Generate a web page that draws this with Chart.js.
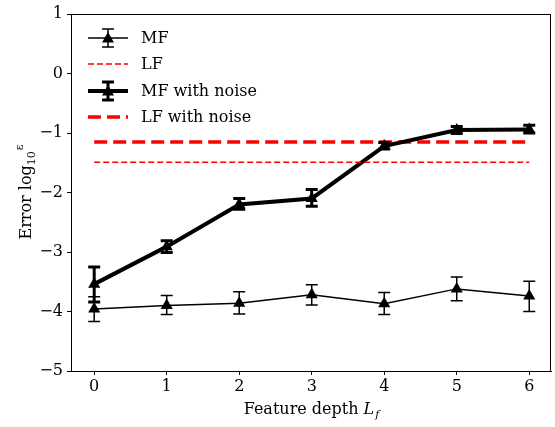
<!DOCTYPE html>
<html lang="en">
<head>
  <meta charset="UTF-8" />
  <title>Error vs feature depth</title>
  <script src="https://cdn.jsdelivr.net/npm/chart.js"></script>
  <style>
    html, body { margin: 0; padding: 0; background: #fff; }
    #wrap { width: 555px; height: 427px; }
  </style>
</head>
<body>
  <div id="wrap"><canvas id="errChart" width="555" height="427"></canvas></div>

  <script>
    // ==== DATA ====
    const depths = [0, 1, 2, 3, 4, 5, 6];
    const yTicks = [1, 0, -1, -2, -3, -4, -5];

    const mfMean = [-3.96, -3.90, -3.86, -3.72, -3.87, -3.62, -3.74];
    const mfLow  = [-4.17, -4.05, -4.04, -3.89, -4.05, -3.82, -4.00];
    const mfHigh = [-3.75, -3.73, -3.67, -3.55, -3.68, -3.42, -3.49];

    const mfNoiseMean = [-3.54, -2.91, -2.20, -2.10, -1.22, -0.95, -0.94];
    const mfNoiseLow  = [-3.84, -3.01, -2.28, -2.23, -1.27, -1.01, -1.00];
    const mfNoiseHigh = [-3.25, -2.81, -2.10, -1.95, -1.16, -0.89, -0.87];

    const lfValues      = [-1.49, -1.49, -1.49, -1.49, -1.49, -1.49, -1.49];
    const lfNoiseValues = [-1.15, -1.15, -1.15, -1.15, -1.15, -1.15, -1.15];

    const FONT = '"DejaVu Serif", serif';
    const minus = v => String(v).replace('-', '\u2212');
    const pts = arr => depths.map((d, i) => ({ x: d, y: arr[i] }));

    // error bars, drawn through the chart scales
    const errorBars = {
      id: 'errorBars',
      afterDatasetsDraw(chart) {
        const { ctx, scales: { x, y } } = chart;
        chart.data.datasets.forEach(ds => {
          if (!ds.errLow) return;
          ctx.save();
          ctx.strokeStyle = '#000';
          ctx.lineWidth = ds.errWidth;
          depths.forEach((d, i) => {
            const px = x.getPixelForValue(d);
            const top = y.getPixelForValue(ds.errHigh[i]);
            const bot = y.getPixelForValue(ds.errLow[i]);
            ctx.beginPath();
            ctx.moveTo(px, top); ctx.lineTo(px, bot);
            ctx.moveTo(px - 6, top); ctx.lineTo(px + 6, top);
            ctx.moveTo(px - 6, bot); ctx.lineTo(px + 6, bot);
            ctx.stroke();
          });
          ctx.restore();
        });
      }
    };

    // frame, matplotlib-like legend and axis titles
    const decor = {
      id: 'decor',
      afterDraw(chart) {
        const { ctx, chartArea } = chart;
        ctx.save();
        ctx.strokeStyle = '#000';
        ctx.lineWidth = 1;
        ctx.strokeRect(chartArea.left + 0.5, chartArea.top + 0.5,
          chartArea.right - chartArea.left - 1, chartArea.bottom - chartArea.top);

        ctx.fillStyle = '#000';
        ctx.textBaseline = 'middle';
        ctx.font = '16px ' + FONT;
        const rows = [38, 64, 91, 117];
        chart.data.datasets.forEach((ds, i) => {
          const yy = rows[i];
          ctx.strokeStyle = ds.borderColor;
          ctx.lineWidth = ds.borderWidth;
          ctx.setLineDash(ds.borderDash || []);
          ctx.beginPath();
          ctx.moveTo(88, yy); ctx.lineTo(128, yy);
          ctx.stroke();
          ctx.setLineDash([]);
          if (ds.errLow) {
            ctx.lineWidth = ds.errWidth;
            ctx.beginPath();
            ctx.moveTo(108, yy - 9); ctx.lineTo(108, yy + 9);
            ctx.moveTo(102, yy - 9); ctx.lineTo(114, yy - 9);
            ctx.moveTo(102, yy + 9); ctx.lineTo(114, yy + 9);
            ctx.stroke();
            ctx.beginPath();
            ctx.moveTo(108, yy - 6); ctx.lineTo(114, yy + 4.5); ctx.lineTo(102, yy + 4.5);
            ctx.closePath();
            ctx.fill();
          }
          ctx.fillText(ds.label, 141, yy + 1);
        });

        // x title
        ctx.textBaseline = 'alphabetic';
        ctx.font = '16px ' + FONT;
        const xs = 'Feature depth ';
        const w1 = ctx.measureText(xs).width;
        ctx.font = 'italic 16px ' + FONT;
        const w2 = ctx.measureText('L').width;
        ctx.font = 'italic 11px ' + FONT;
        const w3 = ctx.measureText('f').width;
        let sx = (chartArea.left + chartArea.right) / 2 - (w1 + w2 + w3) / 2;
        ctx.font = '16px ' + FONT;
        ctx.fillText(xs, sx, 414);
        ctx.font = 'italic 16px ' + FONT;
        ctx.fillText('L', sx + w1, 414);
        ctx.font = 'italic 11px ' + FONT;
        ctx.fillText('f', sx + w1 + w2 + 1, 418);

        // y title
        ctx.translate(26, (chartArea.top + chartArea.bottom) / 2);
        ctx.rotate(-Math.PI / 2);
        ctx.font = '16px ' + FONT;
        const a = 'Error log';
        const aw = ctx.measureText(a).width;
        ctx.font = '11px ' + FONT;
        const bw = ctx.measureText('10').width;
        const cw = ctx.measureText('\u03b5').width;
        let yx = -(aw + bw + cw) / 2;
        ctx.font = '16px ' + FONT;
        ctx.fillText(a, yx, 5);
        ctx.font = '11px ' + FONT;
        ctx.fillText('10', yx + aw, 9);
        ctx.fillText('\u03b5', yx + aw + bw + 1, -3);
        ctx.restore();
      }
    };

    new Chart(document.getElementById('errChart'), {
      type: 'line',
      data: {
        datasets: [
          {
            label: 'MF',
            data: pts(mfMean),
            borderColor: '#000',
            backgroundColor: '#000',
            borderWidth: 1.5,
            pointStyle: 'triangle',
            pointRadius: 7,
            pointBorderWidth: 0,
            errLow: mfLow, errHigh: mfHigh, errWidth: 1.5
          },
          {
            label: 'LF',
            data: pts(lfValues),
            borderColor: '#ff0000',
            borderWidth: 1.5,
            borderDash: [6, 3],
            pointRadius: 0
          },
          {
            label: 'MF with noise',
            data: pts(mfNoiseMean),
            borderColor: '#000',
            backgroundColor: '#000',
            borderWidth: 4,
            pointStyle: 'triangle',
            pointRadius: 7,
            pointBorderWidth: 0,
            errLow: mfNoiseLow, errHigh: mfNoiseHigh, errWidth: 3
          },
          {
            label: 'LF with noise',
            data: pts(lfNoiseValues),
            borderColor: '#ff0000',
            borderWidth: 3.5,
            borderDash: [13, 6],
            pointRadius: 0
          }
        ]
      },
      options: {
        responsive: false,
        animation: false,
        layout: { autoPadding: false, padding: { top: 14, right: 4, left: 0, bottom: 0 } },
        plugins: { legend: { display: false }, tooltip: { enabled: false } },
        scales: {
          x: {
            type: 'linear',
            min: -0.32, max: 6.3,
            afterBuildTicks: s => { s.ticks = depths.map(v => ({ value: v })); },
            afterFit: s => { s.height = 56; s.paddingRight = 0; },
            ticks: { color: '#000', font: { family: FONT, size: 16 }, padding: 2, maxRotation: 0 },
            grid: { display: true, drawOnChartArea: false, drawTicks: true, tickLength: 4, color: '#000' },
            border: { display: true, color: '#000', width: 1 }
          },
          y: {
            min: -5, max: 1,
            afterBuildTicks: s => { s.ticks = yTicks.map(v => ({ value: v })); },
            afterFit: s => { s.width = 71; s.paddingTop = 0; s.paddingBottom = 0; },
            ticks: { color: '#000', font: { family: FONT, size: 16 }, padding: 4, callback: v => minus(v) },
            grid: { display: true, drawOnChartArea: false, drawTicks: true, tickLength: 4, color: '#000' },
            border: { display: true, color: '#000', width: 1 }
          }
        }
      },
      plugins: [errorBars, decor]
    });
  </script>
</body>
</html>
